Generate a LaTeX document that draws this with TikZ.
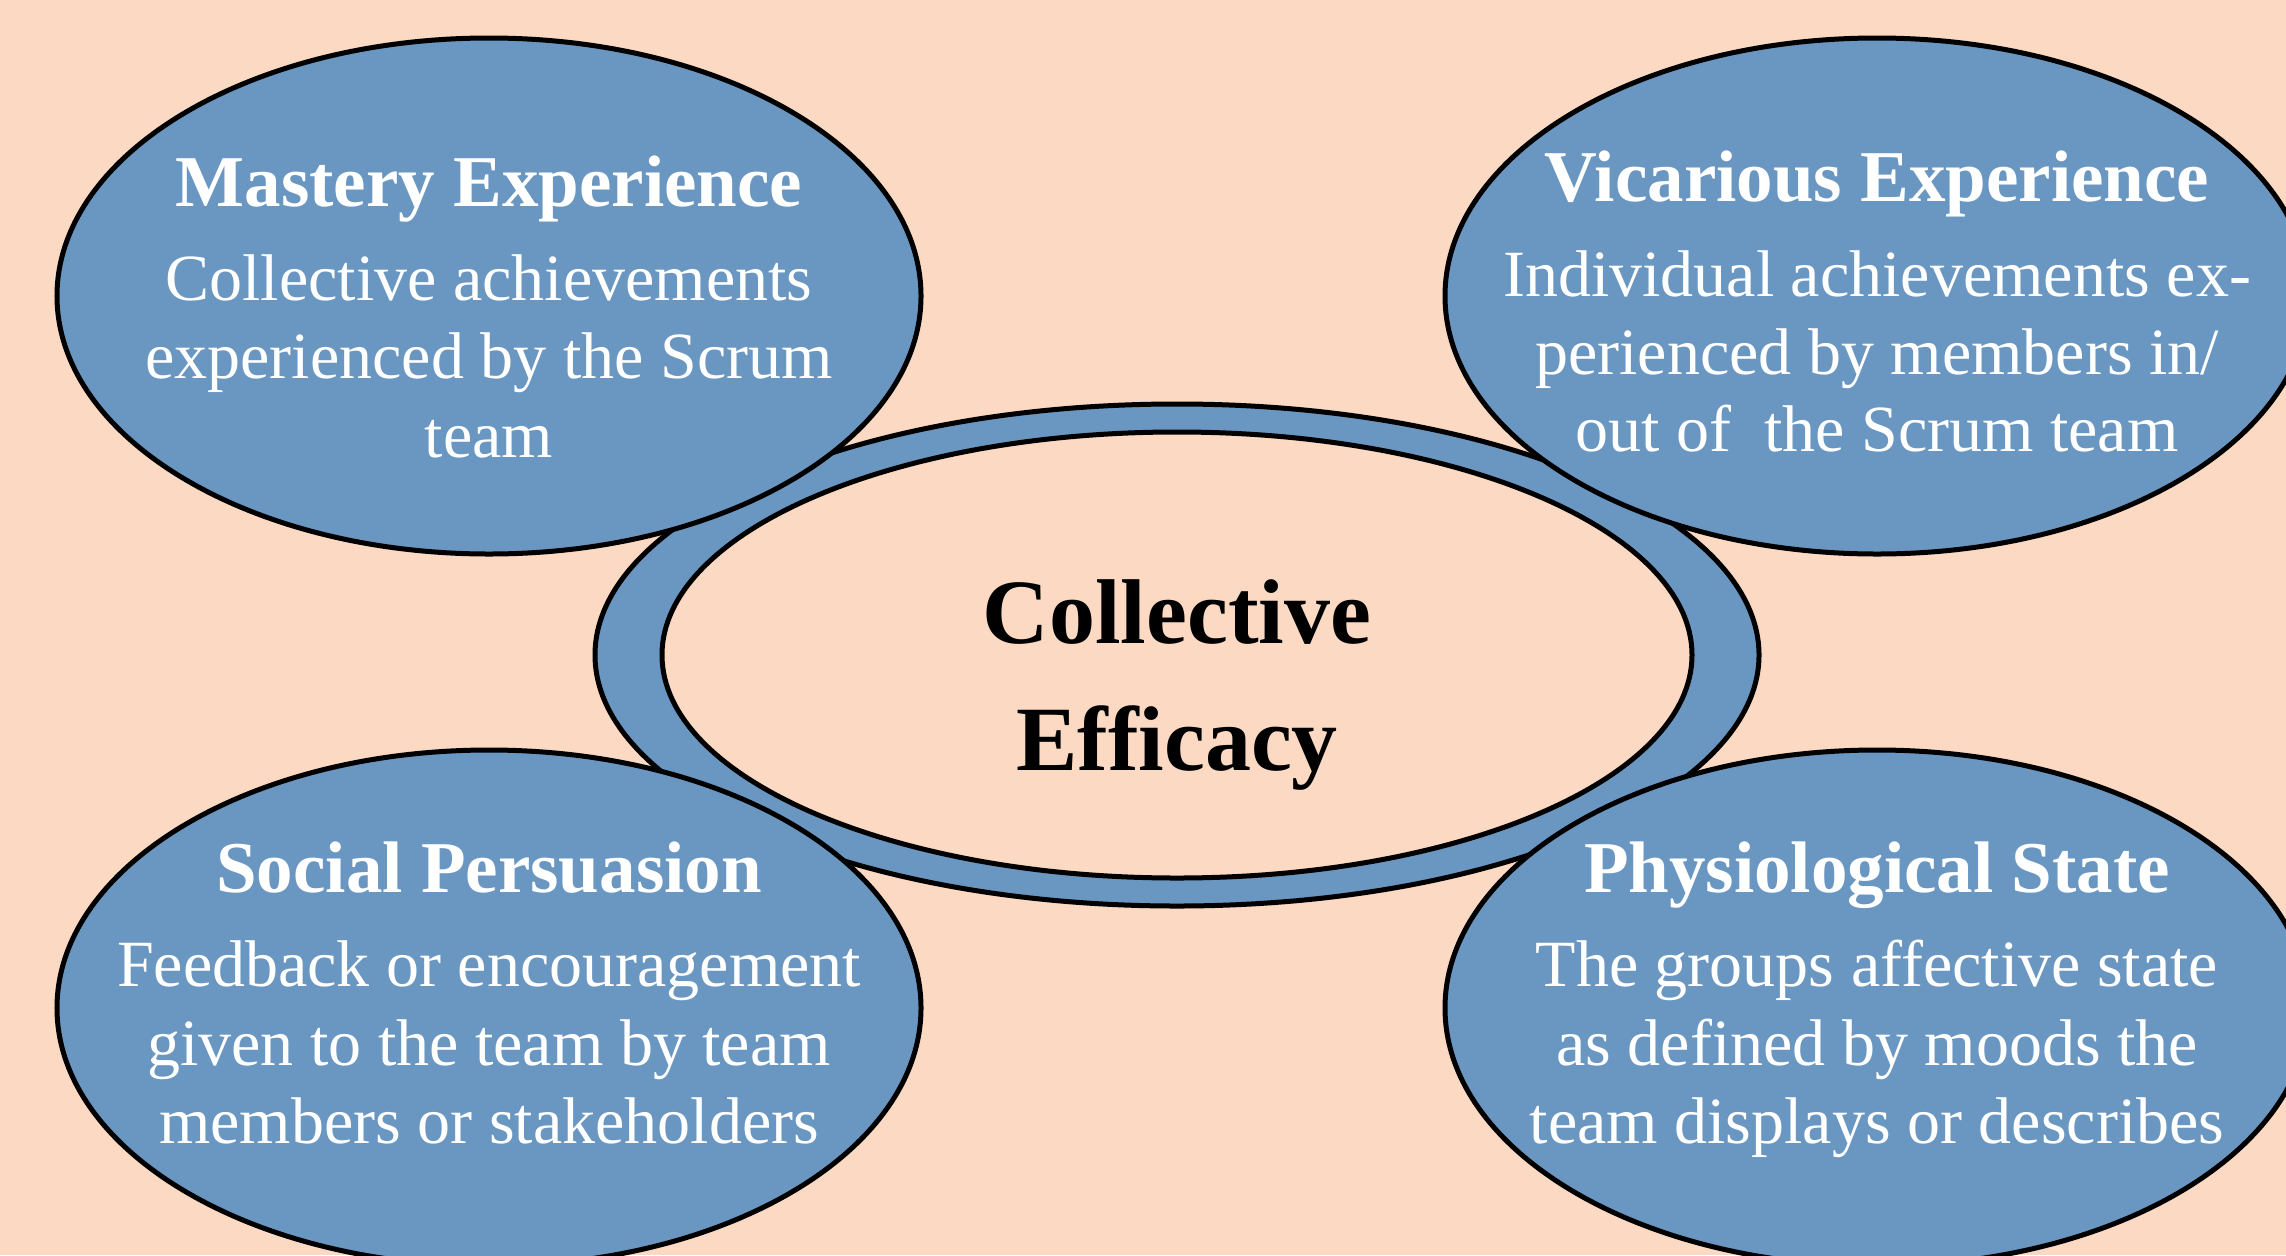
\documentclass[tikz,border=0pt]{standalone}
\usepackage{fontspec}
\setmainfont{Liberation Serif}
\usetikzlibrary{shapes.geometric}
\definecolor{peach}{HTML}{FBD9C3}
\definecolor{steel}{HTML}{6A97C1}
\tikzset{
  oval/.style={ellipse, draw=black, line width=5bp, inner sep=0pt, outer sep=0pt},
  bubble/.style={oval, fill=steel, minimum width=864bp, minimum height=516bp},
  ttl/.style={anchor=base, text=white, font=\fontsize{73bp}{80bp}\selectfont\bfseries, inner sep=0pt},
  body/.style={anchor=base, text=white, font=\fontsize{66bp}{78bp}\selectfont, inner sep=0pt},
  ctr/.style={anchor=base, text=black, font=\fontsize{92bp}{110bp}\selectfont\bfseries, inner sep=0pt}
}
\begin{document}
\begin{tikzpicture}[x=1bp,y=-1bp]
\fill[peach] (0,0) rectangle (2286,1255);
\useasboundingbox (0,0) rectangle (2286,1255);
\clip (0,0) rectangle (2286,1255);
% central ring
\node[oval, fill=steel, minimum width=1164bp, minimum height=502bp] (ring) at (1177,655) {};
\node[oval, fill=peach, minimum width=1030bp, minimum height=446bp] (core) at (1177,655) {};
% four bubbles
\node[bubble] (mastery) at (489,296) {};
\node[bubble] (vicarious) at (1877,296) {};
\node[bubble] (social) at (489,1008) {};
\node[bubble] (physio) at (1877,1008) {};
% texts
\node[ttl] (mt) at (489,206) {Mastery Experience};
\node[body] (m1) at (489,300) {Collective achievements};
\node[body] (m2) at (489,378) {experienced by the Scrum};
\node[body] (m3) at (489,457) {team};
\node[ttl] (vt) at (1877,201) {Vicarious Experience};
\node[body] (v1) at (1877,296) {Individual achievements ex-};
\node[body] (v2) at (1877,374) {perienced by members in/};
\node[body] (v3) at (1877,451) {out of~ the Scrum team};
\node[ttl] (st) at (489,892) {Social Persuasion};
\node[body] (s1) at (489,986) {Feedback or encouragement};
\node[body] (s2) at (489,1065) {given to the team by team};
\node[body] (s3) at (489,1143) {members or stakeholders};
\node[ttl] (pt) at (1877,892) {Physiological State};
\node[body] (p1) at (1877,986) {The groups affective state};
\node[body] (p2) at (1877,1065) {as defined by moods the};
\node[body] (p3) at (1877,1143) {team displays or describes};
\node[ctr] (c1) at (1177,643) {Collective};
\node[ctr] (c2) at (1177,770) {Efficacy};
\end{tikzpicture}
\end{document}
